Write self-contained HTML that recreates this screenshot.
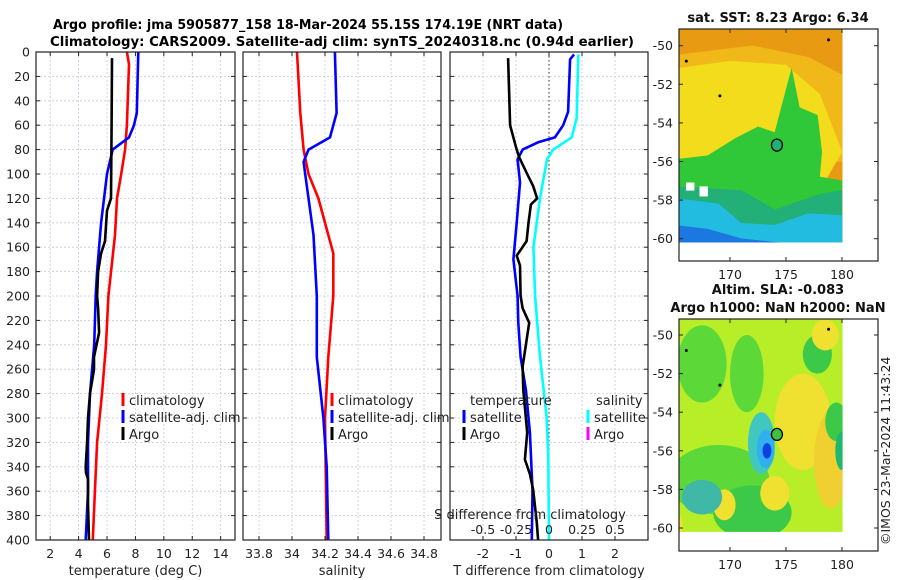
<!DOCTYPE html>
<html><head><meta charset="utf-8">
<style>
html,body{margin:0;padding:0;background:#fff;}
svg{display:block;font-family:"DejaVu Sans","Liberation Sans",sans-serif;}
</style></head>
<body>
<svg id="fig" width="900" height="580" viewBox="0 0 900 580" xmlns="http://www.w3.org/2000/svg">
<text x="53" y="29" font-size="13.5" font-weight="bold" textLength="510" lengthAdjust="spacingAndGlyphs">Argo profile: jma 5905877_158 18-Mar-2024 55.15S 174.19E (NRT data)</text>
<text x="50" y="46" font-size="13.5" font-weight="bold" textLength="584" lengthAdjust="spacingAndGlyphs">Climatology: CARS2009. Satellite-adj clim: synTS_20240318.nc (0.94d earlier)</text>
<g id="panels"></g>
<g id="maps"></g>
<text transform="translate(890,545) rotate(-90)" font-size="12.5" fill="#222">©IMOS 23-Mar-2024 11:43:24</text>
</svg>
<script>
// ---- data ----
const depthTicks = [0,20,40,60,80,100,120,140,160,180,200,220,240,260,280,300,320,340,360,380,400];
const tempTicks = [2,4,6,8,10,12,14];
const salTicks = [33.8,34,34.2,34.4,34.6,34.8];
const salTickLabels = ["33.8","34","34.2","34.4","34.6","34.8"];
const diffTicks = [-2,-1,0,1,2];
const sDiffTicks = [-0.5,-0.25,0,0.25,0.5];
const sDiffTickLabels = ["-0.5","-0.25","0","0.25","0.5"];

const argoDepth = [5,60,120,130,155,165,180,200,210,230,250,260,280,300,320,340,345,350,370,400];
const argoTemp  = [6.35,6.32,6.28,6.0,5.86,5.58,5.37,5.3,5.37,5.44,5.08,5.08,4.8,4.66,4.6,4.5,4.52,4.66,4.66,4.73];

const climDepth = [0,10,60,80,100,120,150,200,240,280,320,360,400];
const climTemp  = [7.4,7.55,7.4,7.27,7.0,6.7,6.56,6.1,5.93,5.65,5.3,5.15,5.0];
const satDepth  = [0,50,60,70,80,100,140,180,200,240,280,320,360,400];
const satTemp   = [8.2,8.1,7.9,7.55,6.4,6.0,5.58,5.3,5.2,5.1,4.8,4.66,4.66,4.5];

const climSalDepth = [0,50,80,100,120,150,165,200,250,300,400];
const climSal      = [34.03,34.05,34.07,34.10,34.16,34.22,34.25,34.25,34.22,34.20,34.21];
const satSalDepth  = [0,50,70,80,90,100,150,200,250,300,340,400];
const satSal       = [34.26,34.27,34.23,34.10,34.07,34.08,34.13,34.15,34.15,34.19,34.21,34.22];

const argoDiffDepth = [5,60,78,86,100,110,120,125,140,155,167,175,200,210,222,236,258,277,312,334,346,359,386,400];
const argoTDiff     = [-1.24,-1.18,-1.0,-0.91,-0.66,-0.48,-0.36,-0.55,-0.62,-0.68,-0.98,-0.88,-0.86,-0.8,-0.6,-0.68,-0.8,-0.78,-0.66,-0.73,-0.58,-0.48,-0.37,-0.33];
const satDiffDepth  = [2,6,49,60,70,74,80,88,107,140,170,200,222,250,277,312,359,400];
const satTDiff      = [0.76,0.64,0.58,0.43,0.18,-0.33,-0.8,-0.95,-0.88,-0.98,-1.08,-0.95,-0.93,-0.86,-0.7,-0.58,-0.5,-0.52];
const sDiffDepth    = [2,54,70,80,88,120,160,200,250,299,331,400];
const satSDiff      = [0.222,0.21,0.172,0.032,-0.015,-0.068,-0.118,-0.105,-0.068,-0.018,-0.005,0];

const latTicks = [-50,-52,-54,-56,-58,-60];
const lonTicks = [170,175,180];
const argoLon = 174.19, argoLat = -55.15;

// ---- helpers ----
const NS = "http://www.w3.org/2000/svg";
function mk(tag, attrs, parent){ const e=document.createElementNS(NS,tag); for(const k in attrs) e.setAttribute(k,attrs[k]); parent.appendChild(e); return e; }
const panels = document.getElementById('panels');
const PY0 = 52, PY1 = 540;
const yD = d => PY0 + (PY1-PY0)*d/400;

function makePanel(name, x0, x1, xmin, xmax){
  const g = mk('g',{},panels);
  
  
  return {g, x0, x1, sx: v => x0 + (x1-x0)*(v-xmin)/(xmax-xmin)};
}
function grid(p, ticks, labels, xlabel){
  const g = p.g;
  for(const d of depthTicks){
    const y=yD(d);
    const l = mk('line',{x1:p.x0,x2:p.x1,y1:y,y2:y,stroke:'#c4c8e4','stroke-width':0.8,'stroke-dasharray':'2,2'},g);
    
    
    mk('line',{x1:p.x0,x2:p.x0+4,y1:y,y2:y,stroke:'#222','stroke-width':1},g);
    mk('line',{x1:p.x1-4,x2:p.x1,y1:y,y2:y,stroke:'#222','stroke-width':1},g);
  }
  ticks.forEach((t,i)=>{
    const x=p.sx(t);
    const l = mk('line',{x1:x,x2:x,y1:PY0,y2:PY1,stroke:'#c4c8e4','stroke-width':0.8,'stroke-dasharray':'2,2'},g);
    
    
    mk('line',{x1:x,x2:x,y1:PY1,y2:PY1-4,stroke:'#222','stroke-width':1},g);
    mk('line',{x1:x,x2:x,y1:PY0,y2:PY0+4,stroke:'#222','stroke-width':1},g);
    const tx = mk('text',{x:x,y:PY1+18,'font-size':12.5,'text-anchor':'middle',fill:'#222'},g);
    tx.textContent = labels ? labels[i] : String(t);
    
    
  });
  const xl = mk('text',{x:(p.x0+p.x1)/2,y:PY1+35,'font-size':13,'text-anchor':'middle',fill:'#222'},g);
  xl.textContent = xlabel;
  
  
}
function frame(p){
  const r = mk('rect',{x:p.x0,y:PY0,width:p.x1-p.x0,height:PY1-PY0,fill:'none',stroke:'#222','stroke-width':1.2},p.g);
  
  
}
function series(p, vals, depths, color, name, w){
  const pts = vals.map((v,i)=>p.sx(v).toFixed(1)+','+yD(depths[i]).toFixed(1)).join(' ');
  const l = mk('polyline',{points:pts,fill:'none',stroke:color,'stroke-width':w||2.6,'stroke-linejoin':'round'},p.g);
  
  
}
function legendEntry(g, x, y, color, label, name){
  mk('rect',{x:x-1.5,y:y-7,width:3,height:13,fill:color},g);
  const t = mk('text',{x:x+6,y:y+5,'font-size':13,fill:'#222'},g);
  t.textContent = label;
  
  
}

// ---- panel 1: temperature ----
const p1 = makePanel('temperature-panel', 36, 235, 1, 15.01);
grid(p1, tempTicks, null, 'temperature (deg C)');
depthTicks.forEach(d=>{
  const t = mk('text',{x:30,y:yD(d)+4.5,'font-size':12.5,'text-anchor':'end',fill:'#222'},p1.g);
  t.textContent = String(d);
  
  
});
series(p1, climTemp, climDepth, '#ff0000', 'climatology-temp-line');
series(p1, satTemp, satDepth, '#0000ff', 'satellite-temp-line');
series(p1, argoTemp, argoDepth, '#000000', 'argo-temp-line');
frame(p1);
legendEntry(p1.g,123,400,'#ff0000','climatology','legend-climatology');
legendEntry(p1.g,123,417,'#0000ff','satellite-adj. clim','legend-satellite-adj');
legendEntry(p1.g,123,434,'#000000','Argo','legend-argo');

// ---- panel 2: salinity ----
const p2 = makePanel('salinity-panel', 243, 441, 33.703, 34.903);
grid(p2, salTicks, salTickLabels, 'salinity');
series(p2, climSal, climSalDepth, '#ff0000', 'climatology-salinity-line');
series(p2, satSal, satSalDepth, '#0000ff', 'satellite-salinity-line');
frame(p2);
legendEntry(p2.g,332,400,'#ff0000','climatology','legend-climatology-2');
legendEntry(p2.g,332,417,'#0000ff','satellite-adj. clim','legend-satellite-adj-2');
legendEntry(p2.g,332,434,'#000000','Argo','legend-argo-2');

// ---- panel 3: differences ----
const p3 = makePanel('difference-panel', 450, 648, -3, 3);
grid(p3, diffTicks, null, 'T difference from climatology');
const zl = mk('line',{x1:p3.sx(0),x2:p3.sx(0),y1:PY0,y2:PY1,stroke:'#333','stroke-width':1,'stroke-dasharray':'1.5,2.5'},p3.g);


const sdx = v => v*4; // S diff scaled onto T axis
series(p3, satTDiff, satDiffDepth, '#0000ff', 'satellite-t-diff-line');
series(p3, satSDiff.map(sdx), sDiffDepth, '#00ffff', 'satellite-s-diff-line');
series(p3, argoTDiff, argoDiffDepth, '#000000', 'argo-t-diff-line');
frame(p3);
{
  const t = mk('text',{x:470,y:405,'font-size':13,fill:'#222'},p3.g); t.textContent='temperature';
   
  const s = mk('text',{x:596,y:405,'font-size':13,fill:'#222'},p3.g); s.textContent='salinity';
   
  legendEntry(p3.g,464,417,'#0000ff','satellite','legend-t-satellite');
  legendEntry(p3.g,464,434,'#000000','Argo','legend-t-argo');
  legendEntry(p3.g,588,417,'#00ffff','satellite','legend-s-satellite');
  legendEntry(p3.g,588,434,'#ff00ff','Argo','legend-s-argo');
  const sl = mk('text',{x:530,y:519,'font-size':13,'text-anchor':'middle',fill:'#222'},p3.g); sl.textContent='S difference from climatology';
   
  sDiffTicks.forEach((v,i)=>{
    const tt = mk('text',{x:p3.sx(sdx(v)),y:534,'font-size':12.5,'text-anchor':'middle',fill:'#222'},p3.g);
    tt.textContent = sDiffTickLabels[i];
    
    
  });
}

// ---- maps ----
const maps = document.getElementById('maps');
function makeMap(name, by0, by1, latTopY, title1, title2, shapes, dotCol){
  const g = mk('g',{},maps);
  
  
  const bx0=679, bx1=878;
  const lx = lon => 730 + (lon-170)*11.2;
  const ly = lat => latTopY + (-50-lat)*19.3;
  const clipId = name+'-clip';
  const cp = mk('clipPath',{id:clipId},g);
  mk('rect',{x:bx0,y:by0,width:lx(180.05)-bx0,height:ly(-60.2)-by0},cp);
  const img = mk('g',{'clip-path':'url(#'+clipId+')'},g);
  
  
  shapes.forEach(s=>{
    if(s.t==='p') mk('polygon',{points:s.pts.map(p=>lx(p[0]).toFixed(1)+','+ly(p[1]).toFixed(1)).join(' '),fill:s.c,stroke:s.c,'stroke-width':0.5},img);
    else mk('ellipse',{cx:lx(s.x),cy:ly(s.y),rx:s.rx*11.2,ry:s.ry*19.3,fill:s.c},img);
  });
  [[166.1,-50.8],[169.1,-52.6],[178.8,-49.7]].forEach(p=>mk('circle',{cx:lx(p[0]),cy:ly(p[1]),r:1.5,fill:'#000'},g));
  const c = mk('ellipse',{cx:lx(argoLon),cy:ly(argoLat),rx:5.5,ry:6,fill:dotCol,stroke:'#000','stroke-width':1.3},g);
  
  
  mk('rect',{x:bx0,y:by0,width:bx1-bx0,height:by1-by0,fill:'none',stroke:'#222','stroke-width':1.2},g);
  latTicks.forEach(lat=>{
    const y=ly(lat);
    mk('line',{x1:bx0,x2:bx0+4,y1:y,y2:y,stroke:'#222'},g);
    mk('line',{x1:bx1-4,x2:bx1,y1:y,y2:y,stroke:'#222'},g);
    const t = mk('text',{x:673,y:y+4.5,'font-size':12.5,'text-anchor':'end',fill:'#222'},g);
    t.textContent=String(lat);
    
    
  });
  lonTicks.forEach(lon=>{
    const x=lx(lon);
    mk('line',{x1:x,x2:x,y1:by1,y2:by1-4,stroke:'#222'},g);
    mk('line',{x1:x,x2:x,y1:by0,y2:by0+4,stroke:'#222'},g);
    const t = mk('text',{x:x,y:by1+18,'font-size':12.5,'text-anchor':'middle',fill:'#222'},g);
    t.textContent=String(lon);
    
    
  });
  const t1 = mk('text',{x:778,y:title2?by0-25:by0-7,'font-size':13,'font-weight':'bold','text-anchor':'middle',fill:'#111'},g);
  t1.textContent = title1;
  
  
  if(title2){
    const t2 = mk('text',{x:778,y:by0-7,'font-size':13,'font-weight':'bold','text-anchor':'middle',fill:'#111'},g);
    t2.textContent = title2;
    
    
  }
}
const sstShapes = [
  {t:'p',c:'#e89a12',pts:[[165,-49],[181,-49],[181,-61],[165,-61]]},
  {t:'p',c:'#f0b818',pts:[[165,-50.5],[172,-50],[177,-50.6],[180,-51.5],[180,-56],[165,-56]]},
  {t:'p',c:'#f2dc1c',pts:[[165,-51.2],[170,-50.8],[175,-51],[178,-52.5],[179,-54],[180,-55.5],[178.5,-57],[165,-57]]},
  {t:'p',c:'#30c838',pts:[[165,-55.9],[168,-55.7],[170.5,-54.8],[172.5,-54.2],[174,-54.5],[175.5,-51.2],[176.2,-53.2],[177.8,-53.6],[178.2,-55.5],[178,-56.8],[180,-57],[180,-61],[165,-61]]},
  {t:'p',c:'#22b078',pts:[[165,-57.3],[171,-57.5],[174,-58.5],[178,-57.7],[180,-57.5],[180,-61],[165,-61]]},
  {t:'p',c:'#22bce0',pts:[[165,-57.9],[169,-58.2],[171,-59.2],[174,-59.3],[177,-58.7],[180,-58.8],[180,-61],[165,-61]]},
  {t:'p',c:'#1a78e0',pts:[[165,-59.3],[168,-59.5],[171,-60],[176,-60.3],[180,-60.2],[180,-61],[165,-61]]},
  {t:'p',c:'#ffffff',pts:[[166.1,-57.1],[166.8,-57.1],[166.8,-57.5],[166.1,-57.5]]},
  {t:'p',c:'#ffffff',pts:[[167.3,-57.3],[168,-57.3],[168,-57.8],[167.3,-57.8]]}
];
const slaShapes = [
  {t:'p',c:'#b8ee28',pts:[[165,-49],[181,-49],[181,-61],[165,-61]]},
  {t:'e',c:'#5cd838',x:167.5,y:-51.5,rx:2.2,ry:2},
  {t:'e',c:'#5cd838',x:171.5,y:-52,rx:1.5,ry:2},
  {t:'e',c:'#3cc848',x:177.8,y:-51,rx:1.3,ry:1},
  {t:'e',c:'#f0e030',x:178.5,y:-50,rx:1.2,ry:0.8},
  {t:'e',c:'#f0e030',x:176.5,y:-54.5,rx:2.5,ry:2.5},
  {t:'e',c:'#f0d030',x:179,y:-56.5,rx:1.5,ry:2.5},
  {t:'e',c:'#3cc848',x:179.5,y:-54.5,rx:1,ry:1},
  {t:'e',c:'#20b870',x:180,y:-56,rx:0.6,ry:1},
  {t:'e',c:'#5cd838',x:169,y:-57.5,rx:4.5,ry:1.8},
  {t:'e',c:'#3cc848',x:172,y:-59.2,rx:3.5,ry:1.4},
  {t:'e',c:'#f0e030',x:174,y:-58.2,rx:1.3,ry:0.9},
  {t:'e',c:'#f0e030',x:169.5,y:-58.8,rx:1,ry:0.8},
  {t:'e',c:'#40b8a8',x:167.5,y:-58.4,rx:1.8,ry:0.9},
  {t:'e',c:'#40c8c0',x:172.8,y:-55.6,rx:1.2,ry:1.6},
  {t:'e',c:'#30b0f0',x:173.2,y:-55.9,rx:0.8,ry:1},
  {t:'e',c:'#1040e0',x:173.3,y:-56,rx:0.4,ry:0.4},
  {t:'e',c:'#f0e030',x:165.2,y:-60,rx:0.6,ry:0.8}
];
makeMap('sst-map', 29, 261, 45.7, 'sat. SST: 8.23 Argo: 6.34', null, sstShapes, '#20b070');
makeMap('sla-map', 319, 551, 335, 'Altim. SLA: -0.083', 'Argo h1000: NaN h2000: NaN', slaShapes, '#40c040');
</script>
</body></html>
